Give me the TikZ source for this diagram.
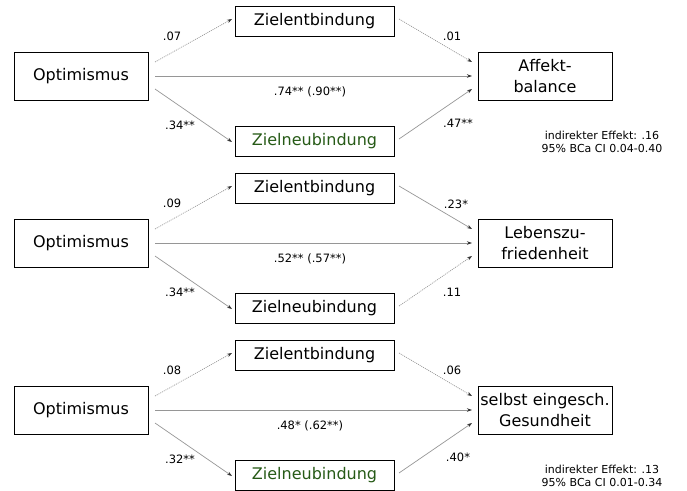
\documentclass[tikz,border=0pt]{standalone}
\usepackage{fontspec}
\setmainfont{DejaVu Sans}
\usetikzlibrary{arrows.meta}
\definecolor{zgreen}{RGB}{38,90,22}
\definecolor{lgray}{RGB}{150,150,150}
\tikzset{
  box/.style={draw=black, line width=0.9pt, minimum width=134pt, minimum height=48pt, align=center, inner sep=0pt, font=\fontsize{16}{20.5}\selectfont},
  zbox/.style={draw=black, line width=0.9pt, minimum width=159pt, minimum height=30pt, inner sep=0pt, font=\fontsize{16}{18}\selectfont},
  sig/.style={draw=lgray, line width=0.7pt, -{Stealth[length=5pt,width=3.5pt,black!80]}},
  ns/.style={draw=lgray, line width=0.7pt, dash pattern=on 1pt off 1pt, -{Stealth[length=5pt,width=3.5pt,black!80]}},
  lab/.style={font=\fontsize{11.5}{13}\selectfont, inner sep=0pt},
  eff/.style={font=\fontsize{11}{13}\selectfont, inner sep=0pt, align=center},
}
\begin{document}
\begin{tikzpicture}[x=1pt,y=-1pt]
\useasboundingbox (0,0) rectangle (687,490);
% Panel 1
\node[box] (o1) at (81,76) {Optimismus};
\node[zbox] (e1) at (314.5,21) {Zielentbindung};
\node[zbox, text=zgreen] (n1) at (314.5,141) {Zielneubindung};
\node[box] (y1) at (545,76) {Affekt-\\balance};
\coordinate (o1a) at (155,62); \coordinate (o1b) at (155,76); \coordinate (o1c) at (155,89);
\coordinate (e1t) at (232,19); \coordinate (n1t) at (232,142);
\coordinate (e1s) at (399,19); \coordinate (n1s) at (399,139);
\coordinate (y1a) at (472,62); \coordinate (y1b) at (472,76); \coordinate (y1c) at (472,89);
\draw[ns] (o1a) -- (e1t);
\draw[sig] (o1c) -- (n1t);
\draw[sig] (o1b) -- (y1b);
\draw[ns] (e1s) -- (y1a);
\draw[sig] (n1s) -- (y1c);
\node[lab] (l11) at (172,36) {.07};
\node[lab] (l12) at (180,125) {.34**};
\node[lab] (l13) at (310,92) {.74** (.90**)};
\node[lab] (l14) at (452,36) {.01};
\node[lab] (l15) at (458,123) {.47**};
\node[eff] (i1) at (602,142) {indirekter Effekt: .16\\95\% BCa CI 0.04-0.40};
% Panel 2
\begin{scope}[yshift=-167pt]
\node[box] (o2) at (81,76) {Optimismus};
\node[zbox] (e2) at (314.5,21) {Zielentbindung};
\node[zbox] (n2) at (314.5,141) {Zielneubindung};
\node[box] (y2) at (545,76) {Lebenszu-\\friedenheit};
\coordinate (o2a) at (155,62); \coordinate (o2b) at (155,76); \coordinate (o2c) at (155,89);
\coordinate (e2t) at (232,19); \coordinate (n2t) at (232,142);
\coordinate (e2s) at (399,19); \coordinate (n2s) at (399,139);
\coordinate (y2a) at (472,62); \coordinate (y2b) at (472,76); \coordinate (y2c) at (472,89);
\draw[ns] (o2a) -- (e2t);
\draw[sig] (o2c) -- (n2t);
\draw[sig] (o2b) -- (y2b);
\draw[sig] (e2s) -- (y2a);
\draw[ns] (n2s) -- (y2c);
\node[lab] (l21) at (172,36) {.09};
\node[lab] (l22) at (180,125) {.34**};
\node[lab] (l23) at (310,92) {.52** (.57**)};
\node[lab] (l24) at (456,37) {.23*};
\node[lab] (l25) at (452,125) {.11};
\end{scope}
% Panel 3
\begin{scope}[yshift=-334pt]
\node[box] (o3) at (81,76) {Optimismus};
\node[zbox] (e3) at (314.5,21) {Zielentbindung};
\node[zbox, text=zgreen] (n3) at (314.5,141) {Zielneubindung};
\node[box] (y3) at (545,76) {selbst eingesch.\\Gesundheit};
\coordinate (o3a) at (155,62); \coordinate (o3b) at (155,76); \coordinate (o3c) at (155,89);
\coordinate (e3t) at (232,19); \coordinate (n3t) at (232,142);
\coordinate (e3s) at (399,19); \coordinate (n3s) at (399,139);
\coordinate (y3a) at (472,62); \coordinate (y3b) at (472,76); \coordinate (y3c) at (472,89);
\draw[ns] (o3a) -- (e3t);
\draw[sig] (o3c) -- (n3t);
\draw[sig] (o3b) -- (y3b);
\draw[ns] (e3s) -- (y3a);
\draw[sig] (n3s) -- (y3c);
\node[lab] (l31) at (172,36) {.08};
\node[lab] (l32) at (180,125) {.32**};
\node[lab] (l33) at (310,92) {.48* (.62**)};
\node[lab] (l34) at (452,36) {.06};
\node[lab] (l35) at (458,123) {.40*};
\node[eff] (i3) at (602,142) {indirekter Effekt: .13\\95\% BCa CI 0.01-0.34};
\end{scope}
\end{tikzpicture}
\end{document}
